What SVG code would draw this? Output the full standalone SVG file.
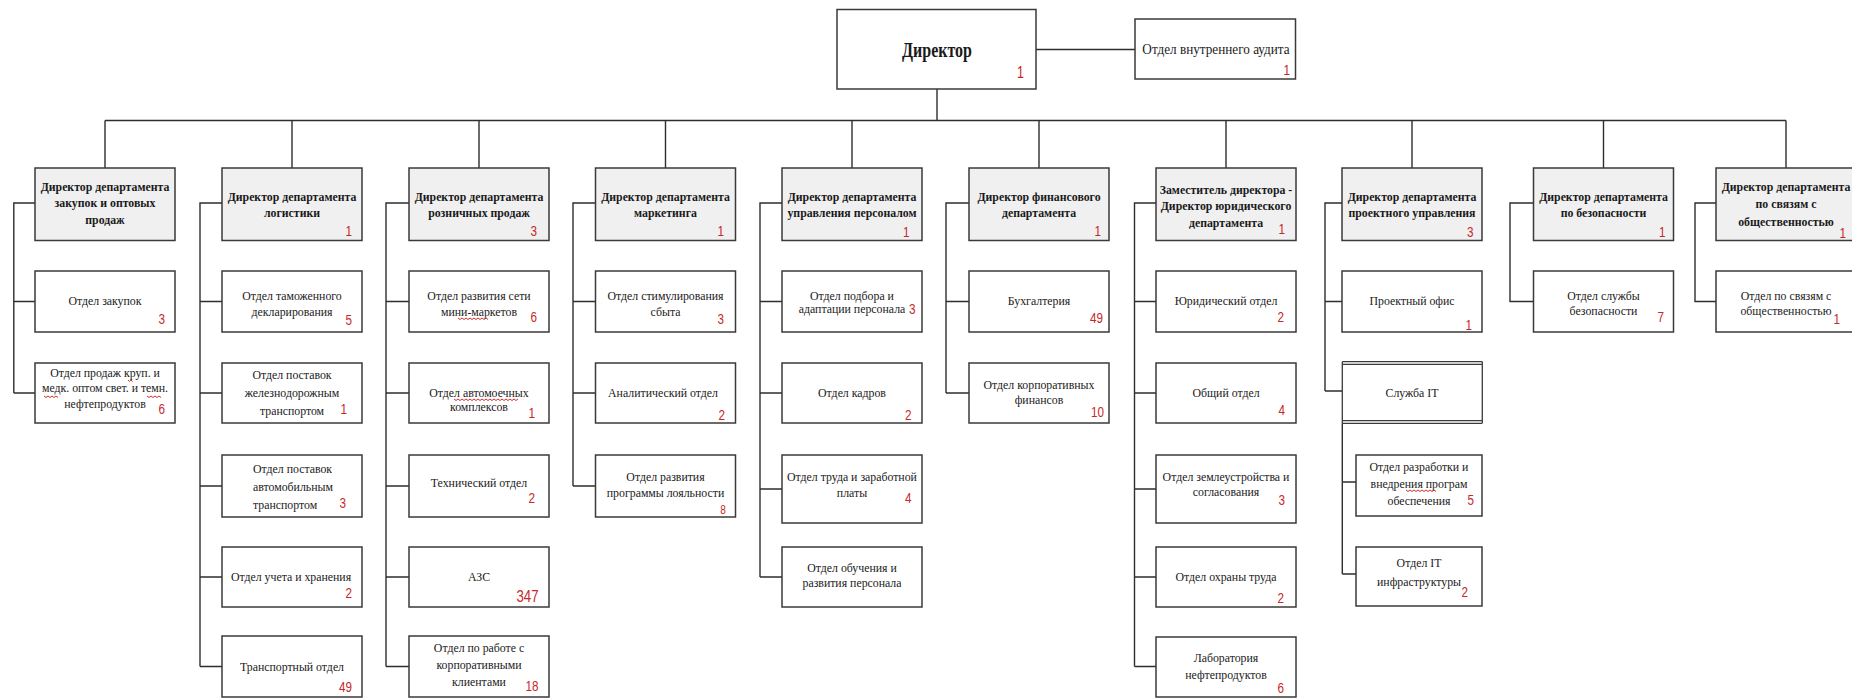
<svg xmlns="http://www.w3.org/2000/svg" width="1852" height="699" viewBox="0 0 1852 699">
<style>
.box{fill:#ffffff;stroke:#3a3a3a;stroke-width:1.5}
.dept{fill:#f0f0f0;stroke:#3a3a3a;stroke-width:1.5}
.ln{fill:none;stroke:#2e2e2e;stroke-width:1.4}
.dl{fill:none;stroke:#3a3a3a;stroke-width:1.3}
.t{font-family:"Liberation Serif","Times New Roman",serif;font-size:13px;fill:#1a1a1a;text-anchor:middle}
.ts{font-family:"Liberation Serif","Times New Roman",serif;font-size:13px;fill:#1a1a1a;text-anchor:start}
.b{font-weight:bold}
.n{font-family:"Liberation Sans",Arial,sans-serif;font-size:15px;fill:#c62828;text-anchor:end}
.sq{fill:none;stroke:#d03030;stroke-width:1}
</style>
<rect x="0" y="0" width="1852" height="699" fill="#ffffff"/>

<g id="connectors" class="ln">
<path d="M1036 49.5H1135"/>
<path d="M937 89V120.5"/>
<path d="M105 120.5H1786"/>
<path d="M105 120.5V168M292 120.5V168M479 120.5V168M665.5 120.5V168M852 120.5V168M1039 120.5V168M1226 120.5V168M1412 120.5V168M1603.5 120.5V168M1786 120.5V168"/>
<path d="M35 203H13.8V393M13.8 301.5H35M13.8 393H35"/>
<path d="M222 203H200V666.5M200 301.5H222M200 393H222M200 486H222M200 577H222M200 666.5H222"/>
<path d="M409 203H386V666.5M386 301.5H409M386 393H409M386 486H409M386 577H409M386 666.5H409"/>
<path d="M595.5 203H573V486M573 301.5H595.5M573 393H595.5M573 486H595.5"/>
<path d="M782 203H760V577M760 301.5H782M760 393H782M760 489H782M760 577H782"/>
<path d="M969 203H946V393M946 301.5H969M946 393H969"/>
<path d="M1156 203H1134.5V666.5M1134.5 301.5H1156M1134.5 393H1156M1134.5 489H1156M1134.5 577H1156M1134.5 666.5H1156"/>
<path d="M1342 203H1325V391M1325 301.5H1342M1325 391H1342"/>
<path d="M1342.3 423.3V574M1342.3 482H1356M1342.3 574H1356"/>
<path d="M1533.5 203H1510V301.5H1533.5"/>
<path d="M1716 203H1695V301.5H1716"/>
</g>

<g id="director">
<rect class="box" x="837" y="9.5" width="199" height="79.5"/>
<text class="t b" style="font-size:20px" transform="translate(937 0) scale(0.8 1)"><tspan x="0" y="57">Директор</tspan></text>
<text class="n" style="font-size:16px" transform="translate(1024 78) scale(0.78 1)">1</text>
</g>
<g id="audit">
<rect class="box" x="1135" y="19" width="160.5" height="60"/>
<text class="t" style="font-size:14.5px" transform="translate(1216 0) scale(0.91 1)"><tspan x="0" y="54.5">Отдел внутреннего аудита</tspan></text>
<text class="n" transform="translate(1290 75) scale(0.78 1)">1</text>
</g>

<!-- Column 1 -->
<g id="d1">
<rect class="dept" x="35" y="168" width="140" height="72.5"/>
<text class="t b" transform="translate(105 0) scale(0.91 1)"><tspan x="0" y="191">Директор департамента</tspan><tspan x="0" y="207.5">закупок и оптовых</tspan><tspan x="0" y="224">продаж</tspan></text>
</g>
<g id="d1r1">
<rect class="box" x="35" y="271" width="140" height="61"/>
<text class="t" transform="translate(105 0) scale(0.91 1)"><tspan x="0" y="305.5">Отдел закупок</tspan></text>
<text class="n" transform="translate(165 324) scale(0.78 1)">3</text>
</g>
<g id="d1r2">
<rect class="box" x="35" y="363" width="140" height="60"/>
<text class="t" transform="translate(105 0) scale(0.91 1)"><tspan x="0" y="377">Отдел продаж круп. и</tspan><tspan x="0" y="392.5">медк. оптом свет. и темн.</tspan><tspan x="0" y="408">нефтепродуктов</tspan></text>
<path class="sq" d="M128 380l1.5 1.5 1.5-1.5 1.5 1.5M44 396l2 1.5 2-1.5 2 1.5 2-1.5 2 1.5 2-1.5 2 1.5M147 396l2 1.5 2-1.5 2 1.5 2-1.5 2 1.5 2-1.5 2 1.5"/>
<text class="n" transform="translate(165 414) scale(0.78 1)">6</text>
</g>

<!-- Column 2 -->
<g id="d2">
<rect class="dept" x="222" y="168" width="140" height="72.5"/>
<text class="t b" transform="translate(292 0) scale(0.91 1)"><tspan x="0" y="200.7">Директор департамента</tspan><tspan x="0" y="217.3">логистики</tspan></text>
<text class="n" transform="translate(352 236) scale(0.78 1)">1</text>
</g>
<g id="d2r1">
<rect class="box" x="222" y="271" width="140" height="61"/>
<text class="t" transform="translate(292 0) scale(0.91 1)"><tspan x="0" y="300">Отдел таможенного</tspan><tspan x="0" y="315.7">декларирования</tspan></text>
<text class="n" transform="translate(352 325) scale(0.78 1)">5</text>
</g>
<g id="d2r2">
<rect class="box" x="222" y="363" width="140" height="60"/>
<text class="t" transform="translate(292 0) scale(0.91 1)"><tspan x="0" y="379">Отдел поставок</tspan><tspan x="0" y="397">железнодорожным</tspan><tspan x="0" y="415">транспортом</tspan></text>
<text class="n" transform="translate(347 414) scale(0.78 1)">1</text>
</g>
<g id="d2r3">
<rect class="box" x="222" y="455" width="140" height="62"/>
<text class="ts" transform="translate(253 0) scale(0.91 1)"><tspan x="0" y="473.3">Отдел поставок</tspan><tspan x="0" y="490.7">автомобильным</tspan><tspan x="0" y="509">транспортом</tspan></text>
<text class="n" transform="translate(346 508) scale(0.78 1)">3</text>
</g>
<g id="d2r4">
<rect class="box" x="222" y="547" width="140" height="60"/>
<text class="t" transform="translate(291 0) scale(0.91 1)"><tspan x="0" y="580.7">Отдел учета и хранения</tspan></text>
<text class="n" transform="translate(352 598) scale(0.78 1)">2</text>
</g>
<g id="d2r5">
<rect class="box" x="222" y="636" width="140" height="61"/>
<text class="t" transform="translate(292 0) scale(0.91 1)"><tspan x="0" y="670.7">Транспортный отдел</tspan></text>
<text class="n" transform="translate(352 692) scale(0.78 1)">49</text>
</g>

<!-- Column 3 -->
<g id="d3">
<rect class="dept" x="409" y="168" width="140" height="72.5"/>
<text class="t b" transform="translate(479 0) scale(0.91 1)"><tspan x="0" y="200.7">Директор департамента</tspan><tspan x="0" y="217.3">розничных продаж</tspan></text>
<text class="n" transform="translate(537 236) scale(0.78 1)">3</text>
</g>
<g id="d3r1">
<rect class="box" x="409" y="271" width="140" height="61"/>
<text class="t" transform="translate(479 0) scale(0.91 1)"><tspan x="0" y="300">Отдел развития сети</tspan><tspan x="0" y="315.7">мини-маркетов</tspan></text>
<path class="sq" d="M458 318l2 1.5 2-1.5 2 1.5 2-1.5 2 1.5 2-1.5 2 1.5 2-1.5 2 1.5 2-1.5 2 1.5 2-1.5 2 1.5 2-1.5 2 1.5"/>
<text class="n" transform="translate(537 322) scale(0.78 1)">6</text>
</g>
<g id="d3r2">
<rect class="box" x="409" y="363" width="140" height="60"/>
<text class="t" transform="translate(479 0) scale(0.91 1)"><tspan x="0" y="396.7">Отдел автомоечных</tspan><tspan x="0" y="411.3">комплексов</tspan></text>
<path class="sq" d="M454 399l2 1.5 2-1.5 2 1.5 2-1.5 2 1.5 2-1.5 2 1.5 2-1.5 2 1.5 2-1.5 2 1.5 2-1.5 2 1.5 2-1.5 2 1.5 2-1.5 2 1.5 2-1.5 2 1.5 2-1.5 2 1.5 2-1.5 2 1.5 2-1.5 2 1.5 2-1.5 2 1.5 2-1.5 2 1.5 2-1.5 2 1.5 2-1.5"/>
<text class="n" transform="translate(535 418) scale(0.78 1)">1</text>
</g>
<g id="d3r3">
<rect class="box" x="409" y="455" width="140" height="62"/>
<text class="t" transform="translate(479 0) scale(0.91 1)"><tspan x="0" y="487.3">Технический отдел</tspan></text>
<text class="n" transform="translate(535 503) scale(0.78 1)">2</text>
</g>
<g id="d3r4">
<rect class="box" x="409" y="547" width="140" height="60"/>
<text class="t" transform="translate(479 0) scale(0.91 1)"><tspan x="0" y="580.7">АЗС</tspan></text>
<text class="n" style="font-size:17px" transform="translate(538.5 602) scale(0.78 1)">347</text>
</g>
<g id="d3r5">
<rect class="box" x="409" y="636" width="140" height="61"/>
<text class="t" transform="translate(479 0) scale(0.91 1)"><tspan x="0" y="652.3">Отдел по работе с</tspan><tspan x="0" y="669">корпоративными</tspan><tspan x="0" y="685.7">клиентами</tspan></text>
<text class="n" transform="translate(538.5 691) scale(0.78 1)">18</text>
</g>

<!-- Column 4 -->
<g id="d4">
<rect class="dept" x="595.5" y="168" width="140" height="72.5"/>
<text class="t b" transform="translate(665.5 0) scale(0.91 1)"><tspan x="0" y="200.7">Директор департамента</tspan><tspan x="0" y="217.3">маркетинга</tspan></text>
<text class="n" transform="translate(724 236) scale(0.78 1)">1</text>
</g>
<g id="d4r1">
<rect class="box" x="595.5" y="271" width="140" height="61"/>
<text class="t" transform="translate(665.5 0) scale(0.91 1)"><tspan x="0" y="300.5">Отдел стимулирования</tspan><tspan x="0" y="316">сбыта</tspan></text>
<text class="n" transform="translate(724 324) scale(0.78 1)">3</text>
</g>
<g id="d4r2">
<rect class="box" x="595.5" y="363" width="140" height="60"/>
<text class="t" transform="translate(663 0) scale(0.91 1)"><tspan x="0" y="397.3">Аналитический отдел</tspan></text>
<text class="n" transform="translate(725 419.5) scale(0.78 1)">2</text>
</g>
<g id="d4r3">
<rect class="box" x="595.5" y="455" width="140" height="62"/>
<text class="t" transform="translate(665.5 0) scale(0.91 1)"><tspan x="0" y="480.7">Отдел развития</tspan><tspan x="0" y="496.7">программы лояльности</tspan></text>
<text class="n" style="font-size:13px" transform="translate(726 514) scale(0.78 1)">8</text>
</g>

<!-- Column 5 -->
<g id="d5">
<rect class="dept" x="782" y="168" width="140" height="72.5"/>
<text class="t b" transform="translate(852 0) scale(0.91 1)"><tspan x="0" y="200.7">Директор департамента</tspan><tspan x="0" y="217.3">управления персоналом</tspan></text>
<text class="n" transform="translate(909.5 237) scale(0.78 1)">1</text>
</g>
<g id="d5r1">
<rect class="box" x="782" y="271" width="140" height="61"/>
<text class="t" transform="translate(852 0) scale(0.91 1)"><tspan x="0" y="300">Отдел подбора и</tspan><tspan x="0" y="313.3">адаптации персонала</tspan></text>
<text class="n" transform="translate(915.5 314) scale(0.78 1)">3</text>
</g>
<g id="d5r2">
<rect class="box" x="782" y="363" width="140" height="60"/>
<text class="t" transform="translate(852 0) scale(0.91 1)"><tspan x="0" y="397.3">Отдел кадров</tspan></text>
<text class="n" transform="translate(911.5 420) scale(0.78 1)">2</text>
</g>
<g id="d5r3">
<rect class="box" x="782" y="455" width="140" height="68"/>
<text class="t" transform="translate(852 0) scale(0.91 1)"><tspan x="0" y="480.7">Отдел труда и заработной</tspan><tspan x="0" y="496.7">платы</tspan></text>
<text class="n" transform="translate(911.5 503) scale(0.78 1)">4</text>
</g>
<g id="d5r4">
<rect class="box" x="782" y="547" width="140" height="60"/>
<text class="t" transform="translate(852 0) scale(0.91 1)"><tspan x="0" y="572.3">Отдел обучения и</tspan><tspan x="0" y="587.3">развития персонала</tspan></text>
</g>

<!-- Column 6 -->
<g id="d6">
<rect class="dept" x="969" y="168" width="140" height="72.5"/>
<text class="t b" transform="translate(1039 0) scale(0.91 1)"><tspan x="0" y="200.7">Директор финансового</tspan><tspan x="0" y="217.3">департамента</tspan></text>
<text class="n" transform="translate(1101 236) scale(0.78 1)">1</text>
</g>
<g id="d6r1">
<rect class="box" x="969" y="271" width="140" height="61"/>
<text class="t" transform="translate(1039 0) scale(0.91 1)"><tspan x="0" y="305">Бухгалтерия</tspan></text>
<text class="n" transform="translate(1103 323) scale(0.78 1)">49</text>
</g>
<g id="d6r2">
<rect class="box" x="969" y="363" width="140" height="60"/>
<text class="t" transform="translate(1039 0) scale(0.91 1)"><tspan x="0" y="389">Отдел корпоративных</tspan><tspan x="0" y="404">финансов</tspan></text>
<text class="n" transform="translate(1104 417) scale(0.78 1)">10</text>
</g>

<!-- Column 7 -->
<g id="d7">
<rect class="dept" x="1156" y="168" width="140" height="72.5"/>
<text class="t b" transform="translate(1226 0) scale(0.91 1)"><tspan x="0" y="194">Заместитель директора -</tspan><tspan x="0" y="210.5">Директор юридического</tspan><tspan x="0" y="227">департамента</tspan></text>
<text class="n" transform="translate(1285 234) scale(0.78 1)">1</text>
</g>
<g id="d7r1">
<rect class="box" x="1156" y="271" width="140" height="61"/>
<text class="t" transform="translate(1226 0) scale(0.91 1)"><tspan x="0" y="305">Юридический отдел</tspan></text>
<text class="n" transform="translate(1284 322) scale(0.78 1)">2</text>
</g>
<g id="d7r2">
<rect class="box" x="1156" y="363" width="140" height="60"/>
<text class="t" transform="translate(1226 0) scale(0.91 1)"><tspan x="0" y="397">Общий отдел</tspan></text>
<text class="n" transform="translate(1285 415) scale(0.78 1)">4</text>
</g>
<g id="d7r3">
<rect class="box" x="1156" y="455" width="140" height="68"/>
<text class="t" transform="translate(1226 0) scale(0.91 1)"><tspan x="0" y="480.7">Отдел землеустройства и</tspan><tspan x="0" y="495.7">согласования</tspan></text>
<text class="n" transform="translate(1285 505) scale(0.78 1)">3</text>
</g>
<g id="d7r4">
<rect class="box" x="1156" y="547" width="140" height="60"/>
<text class="t" transform="translate(1226 0) scale(0.91 1)"><tspan x="0" y="580.7">Отдел охраны труда</tspan></text>
<text class="n" transform="translate(1284 603) scale(0.78 1)">2</text>
</g>
<g id="d7r5">
<rect class="box" x="1156" y="637" width="140" height="60"/>
<text class="t" transform="translate(1226 0) scale(0.91 1)"><tspan x="0" y="662.3">Лаборатория</tspan><tspan x="0" y="679">нефтепродуктов</tspan></text>
<text class="n" transform="translate(1284 693) scale(0.78 1)">6</text>
</g>

<!-- Column 8 -->
<g id="d8">
<rect class="dept" x="1342" y="168" width="140" height="72.5"/>
<text class="t b" transform="translate(1412 0) scale(0.91 1)"><tspan x="0" y="200.7">Директор департамента</tspan><tspan x="0" y="217.3">проектного управления</tspan></text>
<text class="n" transform="translate(1473.5 237) scale(0.78 1)">3</text>
</g>
<g id="d8r1">
<rect class="box" x="1342" y="271" width="140" height="61"/>
<text class="t" transform="translate(1412 0) scale(0.91 1)"><tspan x="0" y="305">Проектный офис</tspan></text>
<text class="n" transform="translate(1472 330) scale(0.78 1)">1</text>
</g>
<g id="d8it">
<rect x="1342.3" y="361.7" width="140" height="61.6" fill="#ffffff" stroke="none"/>
<path class="dl" d="M1342.3 361.7H1482.3M1342.3 364.3H1482.3M1342.3 420.6H1482.3M1342.3 423.3H1482.3M1342.3 361.7V423.3M1482.3 361.7V423.3"/>
<text class="t" transform="translate(1412 0) scale(0.91 1)"><tspan x="0" y="397.3">Служба IT</tspan></text>
</g>
<g id="d8it1">
<rect class="box" x="1356" y="455" width="126" height="61"/>
<text class="t" transform="translate(1419 0) scale(0.91 1)"><tspan x="0" y="470.7">Отдел разработки и</tspan><tspan x="0" y="488">внедрения програм</tspan><tspan x="0" y="504.7">обеспечения</tspan></text>
<path class="sq" d="M1406 490l2 1.5 2-1.5 2 1.5 2-1.5 2 1.5 2-1.5 2 1.5 2-1.5 2 1.5 2-1.5 2 1.5 2-1.5 2 1.5 2-1.5 2 1.5"/>
<text class="n" transform="translate(1474 505) scale(0.78 1)">5</text>
</g>
<g id="d8it2">
<rect class="box" x="1356" y="547" width="126" height="59"/>
<text class="t" transform="translate(1419 0) scale(0.91 1)"><tspan x="0" y="567.3">Отдел IT</tspan><tspan x="0" y="585.7">инфраструктуры</tspan></text>
<text class="n" transform="translate(1468 597) scale(0.78 1)">2</text>
</g>

<!-- Column 9 -->
<g id="d9">
<rect class="dept" x="1533.5" y="168" width="140" height="72.5"/>
<text class="t b" transform="translate(1603.5 0) scale(0.91 1)"><tspan x="0" y="200.7">Директор департамента</tspan><tspan x="0" y="217.3">по безопасности</tspan></text>
<text class="n" transform="translate(1665.5 237) scale(0.78 1)">1</text>
</g>
<g id="d9r1">
<rect class="box" x="1533.5" y="271" width="140" height="61"/>
<text class="t" transform="translate(1603.5 0) scale(0.91 1)"><tspan x="0" y="300">Отдел службы</tspan><tspan x="0" y="314.7">безопасности</tspan></text>
<text class="n" transform="translate(1664 322) scale(0.78 1)">7</text>
</g>

<!-- Column 10 -->
<g id="d10">
<rect class="dept" x="1716" y="168" width="140" height="72.5"/>
<text class="t b" transform="translate(1786 0) scale(0.91 1)"><tspan x="0" y="191">Директор департамента</tspan><tspan x="0" y="208.5">по связям с</tspan><tspan x="0" y="226">общественностью</tspan></text>
<text class="n" transform="translate(1846 238) scale(0.78 1)">1</text>
</g>
<g id="d10r1">
<rect class="box" x="1716" y="271" width="140" height="61"/>
<text class="t" transform="translate(1786 0) scale(0.91 1)"><tspan x="0" y="300">Отдел по связям с</tspan><tspan x="0" y="315">общественностью</tspan></text>
<text class="n" transform="translate(1840 324) scale(0.78 1)">1</text>
</g>
</svg>
